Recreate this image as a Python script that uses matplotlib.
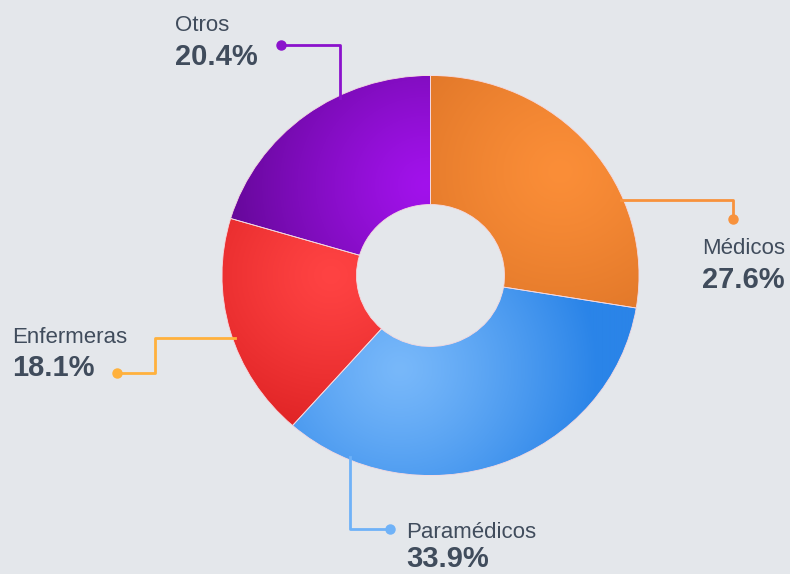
import numpy as np
import matplotlib
matplotlib.use('Agg')
import matplotlib.pyplot as plt
from matplotlib.colors import to_rgb

# data
labels = ['Médicos', 'Paramédicos', 'Enfermeras', 'Otros']
shares = [27.6, 33.9, 18.1, 20.4]
light_colors = ['#fb8e38', '#78b8fa', '#ff4343', '#a212ec']
dark_colors = ['#dc7326', '#2a84e8', '#d81c1e', '#66089a']
line_colors = ['#f8923c', '#6fb2f8', '#ffb13c', '#8b12cc']

BG = '#e4e7eb'
TXT = '#404c5c'
FONT = ['Liberation Sans', 'DejaVu Sans']
NAME_SIZE = 16
PCT_SIZE = 21

# donut placement in pixels (figure 790x574)
W, H = 790, 574
cx, cy, rx, ry = 430.5, 275.5, 208.5, 200.0

fig = plt.figure(figsize=(W / 100, H / 100), dpi=100, facecolor=BG)

ax = fig.add_axes([(cx - rx) / W, 1 - (cy + ry) / H, 2 * rx / W, 2 * ry / H])
wedges, _ = ax.pie(shares, startangle=90, counterclock=False, radius=1,
                   colors=light_colors,
                   wedgeprops=dict(width=0.645, edgecolor='#f4d9e0',
                                   linewidth=0.6))

# soft shading inside each slice (highlight point in pie coords)
highlights = [(0.62, 0.52), (-0.15, -0.47), (-0.48, 0.0), (-0.02, 0.45)]
gx, gy = np.meshgrid(np.linspace(-1, 1, 400), np.linspace(-1, 1, 400))
for w, lc, dc, (hx, hy) in zip(wedges, light_colors, dark_colors, highlights):
    d = np.hypot(gx - hx, gy - hy)
    t = np.clip(d / 0.95, 0, 1)[..., None] ** 1.2
    img = np.array(to_rgb(lc)) * (1 - t) + np.array(to_rgb(dc)) * t
    im = ax.imshow(img, extent=(-1, 1, -1, 1), origin='lower',
                   interpolation='bilinear', zorder=1)
    im.set_clip_path(w)
    w.set_zorder(2)
    w.set_facecolor('none')
ax.set_aspect('auto')
ax.set_xlim(-1, 1)
ax.set_ylim(-1, 1)
ax.axis('off')

# overlay in pixel coords for labels and leader lines
ov = fig.add_axes([0, 0, 1, 1], facecolor='none')
ov.set_xlim(0, W)
ov.set_ylim(H, 0)
ov.axis('off')


def edge_y(x, top):
    s = np.sqrt(1 - ((x - cx) / rx) ** 2) * ry
    return cy - s if top else cy + s


def edge_x(y, right):
    s = np.sqrt(1 - ((y - cy) / ry) ** 2) * rx
    return cx + s if right else cx - s


def label(x, y_name, y_pct, name, pct, ha='left'):
    ov.text(x, y_name, name, ha=ha, va='baseline', fontsize=NAME_SIZE,
            color=TXT, family=FONT)
    ov.text(x, y_pct, f'{pct}%', ha=ha, va='baseline', fontsize=PCT_SIZE,
            fontweight='bold', color=TXT, family=FONT)


LW, MS = 2.0, 6.5

# Médicos
ex = edge_x(200, True) - 3
ov.plot([ex, 733, 733], [200, 200, 219], color=line_colors[0], lw=LW)
ov.plot(733, 219, 'o', color=line_colors[0], ms=MS)
label(785, 254, 288, labels[0], shares[0], ha='right')

# Paramédicos
ey = edge_y(350, False) - 3
ov.plot([350, 350, 390], [ey, 529, 529], color=line_colors[1], lw=LW)
ov.plot(390, 529, 'o', color=line_colors[1], ms=MS)
label(406, 537.5, 567, labels[1], shares[1])

# Enfermeras
ex = edge_x(338, False) + 3
ov.plot([117, 155, 155, ex], [373, 373, 338, 338], color=line_colors[2], lw=LW)
ov.plot(117, 373, 'o', color=line_colors[2], ms=MS)
label(12, 343, 376.5, labels[2], shares[2])

# Otros
ey = edge_y(340, True) + 3
ov.plot([281, 340, 340], [45, 45, ey], color=line_colors[3], lw=LW)
ov.plot(281, 45, 'o', color=line_colors[3], ms=MS)
label(175, 31, 65, labels[3], shares[3])

fig.savefig('out.png', dpi=100, facecolor=BG)
